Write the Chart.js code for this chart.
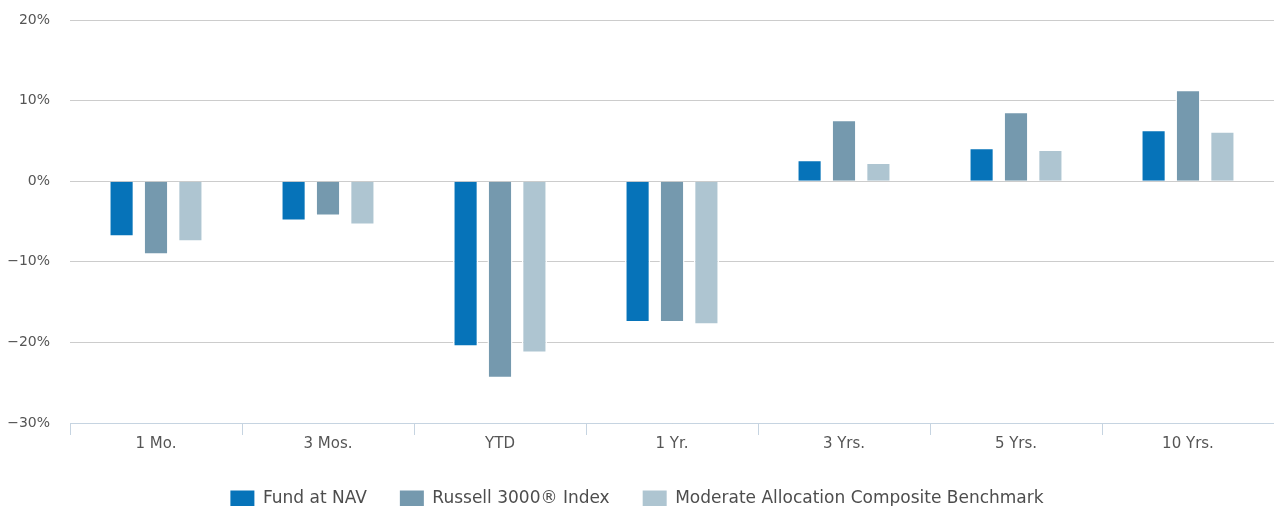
<!DOCTYPE html>
<html>
<head>
<meta charset="utf-8">
<title>Average Annual Total Returns</title>
<script src="https://cdn.jsdelivr.net/npm/chart.js@4.4.1/dist/chart.umd.min.js"></script>
<style>
  html, body { margin: 0; padding: 0; background: #ffffff; overflow: hidden; }
  #wrap { width: 1274px; height: 506px; position: relative; }
</style>
</head>
<body>
<div id="wrap"><canvas id="returns"></canvas></div>
<script>
// Return periods and total returns (%) for each series
const periods = ['1 Mo.', '3 Mos.', 'YTD', '1 Yr.', '3 Yrs.', '5 Yrs.', '10 Yrs.'];
const fundAtNav = [-6.88, -4.93, -20.55, -17.52, 2.65, 4.14, 6.37];
const russell3000 = [-9.12, -4.31, -24.44, -17.52, 7.61, 8.61, 11.34];
const moderateAllocation = [-7.50, -5.43, -21.33, -17.81, 2.31, 3.93, 6.21];
const seriesNames = ['Fund at NAV', 'Russell 3000\u00AE Index', 'Moderate Allocation Composite Benchmark'];
const yMin = -30;
const yMax = 20;
const yStep = 10;

const FONT = "'DejaVu Sans', sans-serif";
const TEXT = '#555555';

function pct(v) {
  return (v < 0 ? '\u2212' + Math.abs(v) : String(v)) + '%';
}

function barSet(label, data, color) {
  return {
    label: label,
    data: data,
    backgroundColor: color,
    borderColor: '#ffffff',
    borderWidth: 1.5,
    borderSkipped: 'start',
    categoryPercentage: 0.6,
    barPercentage: 0.73
  };
}

new Chart(document.getElementById('returns'), {
  type: 'bar',
  data: {
    labels: periods,
    datasets: [
      barSet(seriesNames[0], fundAtNav, '#0673b9'),
      barSet(seriesNames[1], russell3000, '#7599ae'),
      barSet(seriesNames[2], moderateAllocation, '#aec5d1')
    ]
  },
  options: {
    responsive: true,
    maintainAspectRatio: false,
    animation: false,
    events: [],
    layout: { padding: { top: 20, left: 0, right: 0, bottom: -11 } },
    scales: {
      x: {
        grid: {
          offset: true,
          drawOnChartArea: false,
          drawTicks: true,
          tickLength: 12,
          color: '#c6d4e1',
          lineWidth: 1
        },
        border: { display: true, color: '#c6d4e1', width: 1 },
        ticks: {
          padding: 0,
          color: TEXT,
          font: { family: FONT, size: 15 }
        },
        afterFit: function (scale) { scale.height = 34; }
      },
      y: {
        min: yMin,
        max: yMax,
        grid: {
          color: '#cccccc',
          lineWidth: 1,
          drawTicks: true,
          tickLength: 20,
          tickColor: 'rgba(0,0,0,0)'
        },
        border: { display: false },
        ticks: {
          stepSize: yStep,
          padding: 0,
          color: TEXT,
          font: { family: FONT, size: 14 },
          callback: function (v) { return pct(v); }
        },
        afterFit: function (scale) { scale.width = 70; }
      }
    },
    plugins: {
      tooltip: { enabled: false },
      legend: {
        position: 'bottom',
        labels: {
          boxWidth: 24,
          boxHeight: 16,
          padding: 33,
          color: '#4d4d4d',
          font: { family: FONT, size: 17 },
          generateLabels: function (chart) {
            const items = Chart.defaults.plugins.legend.labels.generateLabels(chart);
            items.forEach(function (it) { it.lineWidth = 0; });
            return items;
          }
        }
      }
    }
  }
});
</script>
</body>
</html>
